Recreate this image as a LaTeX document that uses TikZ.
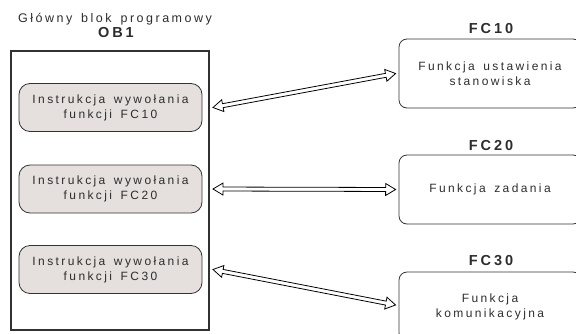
\documentclass[tikz,border=0pt]{standalone}
\usepackage{fontspec}
\usepackage{tikz}
\usetikzlibrary{calc,positioning}
\newfontfamily\spaced[LetterSpace=20,WordSpace=1.5]{Liberation Sans}
\definecolor{linegray}{RGB}{50,50,50}
\definecolor{textgray}{RGB}{45,45,45}
\definecolor{callfill}{RGB}{229,224,221}
\tikzset{
  every picture/.style={line width=0.8pt},
  txt/.style={text=textgray, font=\spaced\fontsize{12bp}{15bp}\selectfont, align=center},
  head/.style={text=textgray, font=\spaced\bfseries\fontsize{14.5bp}{15bp}\selectfont},
  callbox/.style={txt, draw=linegray, fill=callfill, rounded corners=11bp, minimum width=183bp, minimum height=48bp, inner sep=0pt},
  fcbox/.style={txt, draw=linegray, rounded corners=8bp, minimum width=182bp, minimum height=69bp, inner sep=0pt},
  dblarrow/.style={draw=linegray, line width=0.7pt, line join=miter, to path={
    let \p1=(\tikztostart), \p2=(\tikztotarget),
        \n1={atan2(\y2-\y1,\x2-\x1)}, \n2={veclen(\x2-\x1,\y2-\y1)} in
    {[shift={(\p1)}, rotate=\n1]
      (0pt,0pt) -- (10pt,6pt) -- (10pt,2pt) -- (\n2-10pt,2pt) -- (\n2-10pt,6pt) -- (\n2,0pt)
      -- (\n2-10pt,-6pt) -- (\n2-10pt,-2pt) -- (10pt,-2pt) -- (10pt,-6pt) -- cycle}}}
}
\begin{document}
\begin{tikzpicture}[x=1bp,y=1bp]
  \useasboundingbox (0,0) rectangle (576,333);
  \clip (0,0) rectangle (576,333);

  % main program block
  \node[txt, font=\spaced\fontsize{12.5bp}{13bp}\selectfont] (title) at (115,314) {Główny blok programowy};
  \node[head] (ob1name) at (116,300) {OB1};
  \draw[linegray, line width=1.1pt] (11,3) rectangle (209,282);
  \coordinate (ob1) at (209,144);

  \node[callbox] (call1) at (110.5,225.5) {Instrukcja wywołania\\funkcji FC10};
  \node[callbox] (call2) at (110.5,144) {Instrukcja wywołania\\funkcji FC20};
  \node[callbox] (call3) at (110.5,63.5) {Instrukcja wywołania\\funkcji FC30};

  % functions
  \node[fcbox] (fc10) at (490,259.5) {Funkcja ustawienia\\stanowiska};
  \node[fcbox] (fc20) at (490,143.5) {Funkcja zadania};
  \node[fcbox] (fc30) at (490,26.5) {Funkcja\\komunikacyjna};
  \node[head] (fc10name) at (491,304) {FC10};
  \node[head] (fc20name) at (491,187) {FC20};
  \node[head] (fc30name) at (491,72) {FC30};

  % calls
  \coordinate (l1) at ($(call1.east -| ob1)+(4,0)$);
  \coordinate (l2) at ($(call2.east -| ob1)+(4,0)$);
  \coordinate (l3) at ($(call3.east -| ob1)+(4,0)$);
  \coordinate (r1) at ($(fc10.west)+(-3,0)$);
  \coordinate (r2) at ($(fc20.west)+(-3,0)$);
  \coordinate (r3) at ($(fc30.west)+(-3,1.5)$);
  \draw (l1) to[dblarrow] (r1);
  \draw (l2) to[dblarrow] (r2);
  \draw (l3) to[dblarrow] (r3);
\end{tikzpicture}
\end{document}
